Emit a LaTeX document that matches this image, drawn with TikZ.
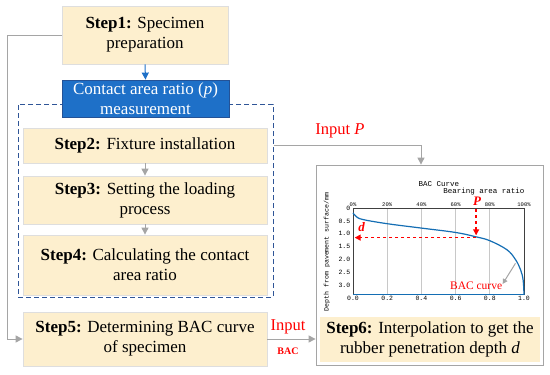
\documentclass[tikz,border=0pt]{standalone}
\usepackage{fontspec}
\setmainfont{LiberationSerif}[Extension=.ttf, UprightFont=*-Regular, BoldFont=*-Bold,
    ItalicFont=*-Italic, BoldItalicFont=*-BoldItalic]
\newfontfamily\chartfont{Liberation Mono}
\usepackage{tikz}
\usetikzlibrary{arrows.meta, positioning, calc}
\definecolor{stepbg}{RGB}{253,239,206}
\definecolor{stepline}{RGB}{222,222,222}
\definecolor{measblue}{RGB}{30,112,200}
\definecolor{measline}{RGB}{36,82,150}
\definecolor{dashblue}{RGB}{47,85,151}
\definecolor{linkgray}{RGB}{165,165,165}
\definecolor{curveblue}{RGB}{20,110,180}
\definecolor{gridgray}{RGB}{200,200,200}

\begin{document}
\begin{tikzpicture}[x=1pt, y=-1pt,
    stepbox/.style={draw=stepline, fill=stepbg, line width=0.8pt, align=center, inner sep=0pt,
        font=\fontsize{17}{20}\selectfont},
    link/.style={draw=linkgray, line width=1pt, -{Triangle[length=7pt, width=7pt]}},
    redarrow/.style={draw=red, line width=1.3pt, dashed, -{Triangle[length=6pt, width=6pt]}},
    chartlbl/.style={font=\chartfont\fontsize{6.5}{7}\selectfont, inner sep=1.5pt},
    redlbl/.style={text=red, font=\fontsize{16.5}{18}\selectfont}]
    \useasboundingbox (0,0) rectangle (550,375);

    % Dashed frame of the measurement
    \node[draw=dashblue, line width=1pt, dash pattern=on 5pt off 3pt, minimum width=255pt, minimum height=193pt,
        inner sep=0pt] (meas) at (145.5,200.5) {};

    % Left column of steps
    \node[stepbox, minimum width=166pt, minimum height=58pt] (step1) at (145,35)
        {\textbf{Step1:} Specimen\\preparation};
    \node[draw=measline, fill=measblue, text=white, line width=0.8pt, align=center, inner sep=0pt,
        font=\fontsize{17}{20}\selectfont, minimum width=167pt, minimum height=37pt] (measTitle) at (145.5,98.5)
        {Contact area ratio (\textit{p})\\measurement};
    \node[stepbox, minimum width=244pt, minimum height=35pt] (step2) at (145,145.5)
        {\textbf{Step2:} Fixture installation};
    \node[stepbox, minimum width=244pt, minimum height=48pt] (step3) at (145,200)
        {\textbf{Step3:} Setting the loading\\process};
    \node[stepbox, minimum width=244pt, minimum height=60pt] (step4) at (145,265)
        {\textbf{Step4:} Calculating the contact\\area ratio};
    \node[stepbox, minimum width=244pt, minimum height=54pt] (step5) at (145,339)
        {\textbf{Step5:} Determining BAC curve\\of specimen};

    % Right panel
    \node[draw=linkgray, fill=white, line width=0.8pt, minimum width=227pt, minimum height=200pt,
        inner sep=0pt] (panel) at (429.5,265) {};
    \node[stepbox, draw=none, minimum width=220pt, minimum height=45pt] (step6) at (430,339.5)
        {\textbf{Step6:} Interpolation to get the\\rubber penetration depth \textit{d}};

    % Connectors
    \draw[link, draw=measblue] (step1.south) -- (measTitle.north);
    \draw[link] (step2.south) -- (step3.north);
    \draw[link] (step3.south) -- (step4.north);
    \draw[link] (step1.west) -| ([xshift=-15pt]step5.west) -- (step5.west);
    \draw[link] (meas.east |- step2) -| ([xshift=-8.5pt]panel.north);
    \draw[link] (step5.east) -- (step5.east -| panel.west);
    \node[redlbl] (inputP) at (340,131) {Input \textit{P}};
    \node[redlbl] (inputBAC) at (288,327) {Input};
    \node[text=red, font=\bfseries\fontsize{10}{11}\selectfont] (bacLbl) at (288,351) {BAC};

    % BAC chart
    \node[font=\chartfont\fontsize{7.5}{8}\selectfont] (chartTitle) at (439,184) {BAC Curve};
    \node[font=\chartfont\fontsize{7.5}{8}\selectfont] (xTitle) at (484,192) {Bearing area ratio};
    \node[chartlbl, rotate=90, font=\chartfont\fontsize{6.6}{7}\selectfont] (yTitle) at (327,252)
        {Depth from pavement surface/mm};
    \begin{scope}[shift={(353,208)}, x=171pt, y=-25.75pt]
        \foreach \r in {0.2,0.4,0.6,0.8}
            \draw[gridgray, line width=0.8pt] (\r,0) -- (\r,3.37);
        \draw[black!75, line width=0.6pt] (0,3.37) -- (0,0) -- (1,0) -- (1,3.37);
        \draw[curveblue, line width=1.2pt] (0,3.37) -- (1,3.37);
        \draw[curveblue, line width=1.2pt] plot[smooth, tension=0.6] coordinates {(0,0.19) (0.02,0.34)
            (0.06,0.45) (0.2,0.61) (0.4,0.78) (0.6,0.95) (0.72,1.12) (0.8,1.27) (0.9,1.62) (0.95,2.0)
            (0.98,2.4) (0.995,2.8) (1,3.37)};
        \foreach \r/\t in {0/0.0, 0.2/0.2, 0.4/0.4, 0.6/0.6, 0.8/0.8, 1/1.0}
            \node[chartlbl, below] at (\r,3.37) {\t};
        \foreach \r/\t in {0/0, 0.2/20, 0.4/40, 0.6/60, 0.8/80, 1/100}
            \node[chartlbl, above, font=\chartfont\fontsize{5.5}{6}\selectfont, inner sep=1.2pt] at (\r,0) {\t\%};
        \foreach \d/\t in {0/0, 0.5/0.5, 1/1.0, 1.5/1.5, 2/2.0, 2.5/2.5, 3/3.0}
            \node[chartlbl, left, inner sep=2.5pt] at (0,\d) {\t};
        % Reading P and d
        \coordinate (pTop) at (0.72,0.03);
        \coordinate (pEnd) at (0.72,1.06);
        \coordinate (pHit) at (0.72,1.15);
        \coordinate (dEnd) at (0.01,1.15);
        \draw[redarrow] (pTop) -- (pEnd);
        \draw[redarrow] (pHit) -- (dEnd);
        \node[text=red, font=\bfseries\itshape\fontsize{13}{13}\selectfont] (pLbl) at (0.725,-0.25) {P};
        \node[text=red, font=\bfseries\itshape\fontsize{13}{13}\selectfont] (dLbl) at (0.05,0.75) {d};
        \node[text=red, font=\fontsize{11.5}{12}\selectfont] (curveLbl) at (0.72,3.03) {BAC curve};
        \coordinate (cTail) at (0.95,2.15);
        \coordinate (cHead) at (0.875,2.95);
        \draw[draw=linkgray, line width=1pt, -{Triangle[length=5pt, width=5pt]}] (cTail) -- (cHead);
    \end{scope}
\end{tikzpicture}
\end{document}
